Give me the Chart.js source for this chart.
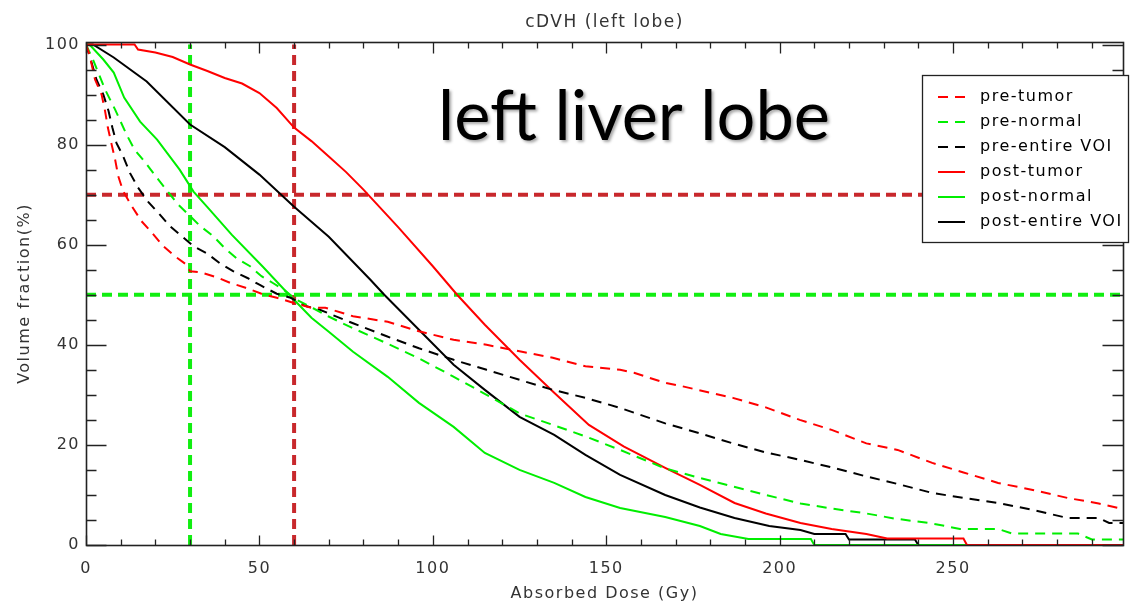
<!DOCTYPE html>
<html>
<head>
<meta charset="utf-8">
<title>cDVH (left lobe)</title>
<script src="https://cdn.jsdelivr.net/npm/chart.js@4.4.0/dist/chart.umd.min.js"></script>
<style>
  body { margin: 0; background: #fff; }
  #wrap { width: 1132px; height: 606px; }
</style>
</head>
<body>
<div id="wrap"><canvas id="dvh"></canvas></div>
<script>
// [dose (Gy), volume (%)]
const preTumor = [[0,100],[1,98],[2.6,93],[4.5,90],[5.5,86.7],[6.3,83.4],[7.4,80],[8.4,77],[9.3,73.7],[10.7,70.7],[13.2,67.7],[16,64.7],[19,62.4],[22.3,59.7],[25.6,57.7],[29,56],[30,54.7],[33,54.5],[38,53.4],[41.5,52.4],[46,51.4],[50.6,50.2],[55,49.4],[59.7,48.4],[65,47.4],[69,47.4],[77,45.7],[87,44.6],[96,42.7],[106,41],[115.5,40],[125,38.7],[134.6,37.4],[144,35.7],[154,35],[158,34.4],[167,32.4],[172,31.7],[186.5,29.4],[196,27.5],[205.8,25],[215,23],[225,20.3],[234,19],[244,16.4],[253,14.5],[263,12.4],[273,11],[283,9.4],[292,8.3],[299,7.2]];
const preNormal = [[0,100],[2,97],[5.5,91],[8.4,87],[11.7,82],[14,79],[17,76.5],[20.4,73.4],[23.7,70.5],[26.6,68],[30.5,65.4],[32.8,63.8],[36.7,61.7],[40,59.3],[43.4,57.3],[47.3,55.7],[50.6,53.7],[54,52.3],[57,51],[60.7,49],[65.5,47.3],[69.8,45.7],[77,43.3],[86.7,40.3],[96,37.3],[105.8,33.7],[115.5,30],[125,26.3],[134.6,24],[144,21.7],[154,19],[167,15.3],[177,13.4],[186.5,11.7],[196,10],[206,8.3],[215,7.3],[225,6.3],[233,5.3],[244,4.3],[252,3.2],[263,3.2],[267,2.3],[286,2.3],[290,1.1],[299,1.1]];
const preEntire = [[0,100],[1.6,96.4],[3,93],[5,90],[6.5,86.7],[7.6,83.4],[8.8,80.3],[10.7,77.7],[12.7,74.3],[15,71.4],[18,68.5],[21.3,66],[24.2,63.7],[27.6,61.7],[31,59.7],[34.8,58.3],[38.6,56.3],[42.4,54.7],[46.7,53.3],[50,52],[55,50.2],[59,49.4],[63.6,47.7],[67.4,47],[77,44.3],[86.7,41.7],[96,39.3],[106,37],[115.5,35],[125,33],[134.6,31],[144,29.4],[154,27.4],[167,24.3],[177,22.3],[186.5,20.3],[196,18.5],[206,17],[215,15.5],[225,13.7],[234,12.2],[244,10.4],[253,9.4],[263,8.4],[273,7],[283,5.4],[292,5.4],[295,4.4],[299,4.4]];
const postTumor = [[0,100],[14,100],[15,99],[20,98.4],[25,97.5],[30,96],[35,94.7],[40,93.3],[45,92.2],[50,90.3],[55,87.3],[60,83.4],[65,80.7],[70,77.6],[75,74.5],[80,71],[90,63.5],[100,55.7],[107,50],[115,44],[125,37],[135,30.4],[145,24],[155,19.7],[167,15.4],[177,12],[187,8.4],[196,6.3],[206,4.4],[215,3.2],[225,2.2],[231,1.3],[253,1.3],[254,0],[299,0]];
const postNormal = [[0,100],[1,100],[5,97],[8,94.4],[11,89.4],[15.6,84.6],[20.5,81],[27,75],[31,70.6],[35,67.5],[42,62],[51,55.6],[58,50.4],[65,45.4],[70,42.6],[77,38.6],[87,33.6],[96,28.4],[106,23.6],[115,18.4],[125,15],[135,12.4],[144,9.6],[154,7.4],[167,5.6],[177,3.8],[183,2.2],[191,1.2],[209,1.2],[210,0],[299,0]];
const postEntire = [[0,100],[2,100],[8,97.4],[17.5,92.6],[30,84],[40,79.5],[50,74],[60,67.6],[70,61.6],[82,53],[86,50],[96,43],[106,36],[115,31],[125,25.6],[135,22],[144,18],[154,14],[167,10],[177,7.5],[187,5.4],[197,3.8],[206,3],[210,2.2],[219,2.2],[220,1.1],[239,1.1],[240,0],[299,0]];

const seriesNames = ["pre-tumor", "pre-normal", "pre-entire VOI", "post-tumor", "post-normal", "post-entire VOI"];
const xTicks = [0, 50, 100, 150, 200, 250];
const yTicks = [0, 20, 40, 60, 80, 100];
const xMax = 299;
const yMax = 100.5;
const tumorDoseLine = 60;
const normalDoseLine = 30;
const tumorVolLine = 70;
const normalVolLine = 50;

const RED = "#ff0000", GREEN = "#00ee00", BLACK = "#000000";
const MARK_RED = "#c8282c", MARK_GREEN = "#11ee11";
const AXIS = "#222222";

function pts(arr) {
  return arr.map(p => ({ x: p[0], y: p[1] }));
}

function curve(label, arr, color, dashed) {
  return {
    label: label, data: pts(arr), borderColor: color, borderWidth: 2,
    borderDash: dashed ? [10, 7] : [], pointRadius: 0, tension: 0, fill: false
  };
}

function marker(arr, color) {
  return {
    label: "", data: pts(arr), borderColor: color, borderWidth: 4,
    borderDash: [10, 6], pointRadius: 0, tension: 0, fill: false
  };
}

// plot box with inward ticks on all four sides
function drawBox(ctx, sx, sy) {
  const L = Math.round(sx.getPixelForValue(0)) + 0.5;
  const R = Math.round(sx.getPixelForValue(xMax)) + 0.5;
  const T = Math.round(sy.getPixelForValue(yMax)) + 0.5;
  const B = Math.round(sy.getPixelForValue(0)) + 0.5;
  ctx.save();
  ctx.setLineDash([]);
  ctx.strokeStyle = AXIS;
  ctx.lineWidth = 1.6;
  ctx.strokeRect(L, T, R - L, B - T);
  ctx.beginPath();
  for (let d = 0; d <= xMax; d += 10) {
    const px = Math.round(sx.getPixelForValue(d)) + 0.5;
    const major = d % 50 === 0;
    ctx.moveTo(px, B); ctx.lineTo(px, B - (major ? 10 : 6));
    ctx.moveTo(px, T); ctx.lineTo(px, T + (major ? 11 : 6));
  }
  for (let v = 0; v <= 100; v += 5) {
    const py = Math.round(sy.getPixelForValue(v)) + 0.5;
    const major = v % 20 === 0;
    ctx.moveTo(L, py); ctx.lineTo(L + (major ? 20 : 10), py);
    ctx.moveTo(R, py); ctx.lineTo(R - (major ? 21 : 11), py);
  }
  ctx.lineWidth = 1.3;
  ctx.stroke();
  ctx.restore();
}

const boxPlugin = {
  id: "boxPlugin",
  beforeDraw(chart) {
    chart.ctx.letterSpacing = "1.5px";
  },
  afterDraw(chart) {
    const ctx = chart.ctx;
    const sx = chart.scales.x, sy = chart.scales.y;

    drawBox(ctx, sx, sy);

    // big annotation
    ctx.save();
    ctx.letterSpacing = "0px";
    ctx.font = "70px Lato";
    ctx.fillStyle = "#000";
    ctx.textBaseline = "alphabetic";
    ctx.shadowColor = "rgba(0,0,0,0.35)";
    ctx.shadowOffsetX = 2;
    ctx.shadowOffsetY = 2;
    ctx.shadowBlur = 3;
    ctx.fillText("left liver lobe", sx.getPixelForValue(101.5), sy.getPixelForValue(81), 392);
    ctx.restore();

    // legend, sitting over the right axis like the original
    ctx.save();
    const lx = 922, ly = 75, lw = 206, lh = 167;
    ctx.fillStyle = "#fff";
    ctx.fillRect(lx, ly, lw, lh);
    ctx.strokeStyle = AXIS;
    ctx.lineWidth = 1.3;
    ctx.setLineDash([]);
    ctx.strokeRect(lx + 0.5, ly + 0.5, lw, lh);
    ctx.font = "16px 'DejaVu Sans'";
    ctx.letterSpacing = "1.5px";
    ctx.textBaseline = "middle";
    chart.data.datasets.slice(0, seriesNames.length).forEach((ds, i) => {
      const ry = ly + 22 + i * 25;
      ctx.beginPath();
      ctx.strokeStyle = ds.borderColor;
      ctx.lineWidth = 2;
      ctx.setLineDash(ds.borderDash);
      ctx.moveTo(lx + 16, ry);
      ctx.lineTo(lx + 43, ry);
      ctx.stroke();
      ctx.setLineDash([]);
      ctx.fillStyle = "#000";
      ctx.fillText(ds.label, lx + 58, ry);
    });
    ctx.restore();
  }
};

const tickFont = { family: "DejaVu Sans", size: 16 };
const titleFont = { family: "DejaVu Sans", size: 17 };

new Chart(document.getElementById("dvh"), {
  type: "line",
  data: {
    datasets: [
      curve(seriesNames[0], preTumor, RED, true),
      curve(seriesNames[1], preNormal, GREEN, true),
      curve(seriesNames[2], preEntire, BLACK, true),
      curve(seriesNames[3], postTumor, RED, false),
      curve(seriesNames[4], postNormal, GREEN, false),
      curve(seriesNames[5], postEntire, BLACK, false),
      marker([[0, tumorVolLine], [xMax, tumorVolLine]], MARK_RED),
      marker([[0, normalVolLine], [xMax, normalVolLine]], MARK_GREEN),
      marker([[tumorDoseLine, 0], [tumorDoseLine, 100]], MARK_RED),
      marker([[normalDoseLine, 0], [normalDoseLine, 100]], MARK_GREEN)
    ]
  },
  options: {
    responsive: true,
    maintainAspectRatio: false,
    animation: false,
    layout: { padding: { left: 0, right: 9, top: 0, bottom: 0 } },
    plugins: {
      legend: { display: false },
      title: { display: false },
      tooltip: { enabled: false }
    },
    scales: {
      x: {
        type: "linear", position: "bottom", min: 0, max: xMax,
        afterBuildTicks: s => { s.ticks = xTicks.map(v => ({ value: v })); },
        grid: { display: false, drawTicks: false },
        border: { display: false },
        ticks: { padding: 14, color: "#333", font: tickFont, maxRotation: 0, autoSkip: false },
        title: { display: true, text: "Absorbed Dose (Gy)", color: "#333", font: tickFont, padding: { top: 0, bottom: 3 } },
        afterFit: s => { s.height = 61; }
      },
      xTop: {
        type: "linear", position: "top", min: 0, max: xMax,
        grid: { display: false, drawTicks: false },
        border: { display: false },
        ticks: { display: false },
        title: { display: true, text: "cDVH (left lobe)", color: "#333", font: titleFont, padding: { top: 12, bottom: 0 } },
        afterFit: s => { s.height = 42; }
      },
      y: {
        type: "linear", min: 0, max: yMax,
        afterBuildTicks: s => { s.ticks = yTicks.map(v => ({ value: v })); },
        grid: { display: false, drawTicks: false },
        border: { display: false },
        ticks: { padding: 6, color: "#333", font: tickFont },
        title: { display: true, text: "Volume fraction(%)", color: "#333", font: tickFont, padding: { top: 15, bottom: 0 } },
        afterFit: s => { s.width = 86; }
      }
    }
  },
  plugins: [boxPlugin]
});
</script>
</body>
</html>
